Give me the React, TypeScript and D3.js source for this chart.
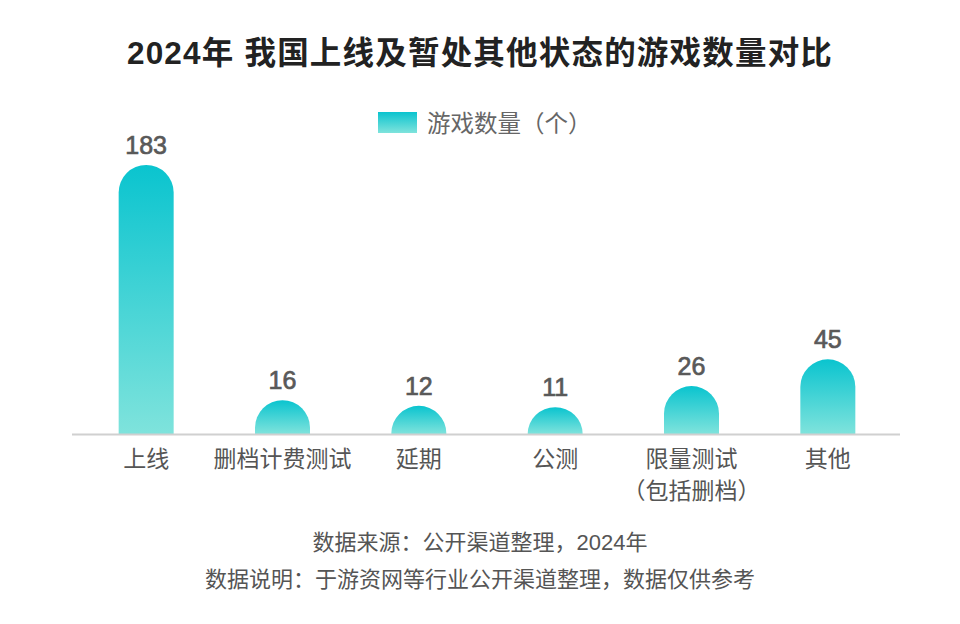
import React, { useEffect, useRef } from 'react';
import * as d3 from 'd3';

const categories = ['上线', '删档计费测试', '延期', '公测', '限量测试\n（包括删档）', '其他'];
const gameCounts = [183, 16, 12, 11, 26, 45];

const chartTitle = '2024年 我国上线及暂处其他状态的游戏数量对比';
const legendLabel = '游戏数量（个）';
const footnotes = ['数据来源：公开渠道整理，2024年', '数据说明：于游资网等行业公开渠道整理，数据仅供参考'];

const FONT = '"Liberation Sans", "Noto Sans CJK SC", sans-serif';

const App: React.FC = () => {
   const svgRef = useRef<SVGSVGElement | null>(null);
   const width = 960;
   const height = 624;

   useEffect(() => {
      if (!svgRef.current) return;
      const svg = d3.select(svgRef.current);
      svg.selectAll('*').remove();

      const baseline = 434;
      const top = 165;

      const x = d3.scaleBand<number>()
         .domain(d3.range(categories.length))
         .range([78, 896])
         .paddingInner(0.6)
         .paddingOuter(0.3);

      const y = d3.scaleLinear()
         .domain([-8, 183])
         .range([baseline, top]);

      const defs = svg.append('defs');
      const grad = defs.append('linearGradient')
         .attr('id', 'bar-grad')
         .attr('x1', 0).attr('y1', 0)
         .attr('x2', 0).attr('y2', 1);
      grad.append('stop').attr('offset', '0%').attr('stop-color', '#0ac4cf');
      grad.append('stop').attr('offset', '100%').attr('stop-color', '#7fe3dc');

      // title
      svg.append('text')
         .attr('x', width / 2)
         .attr('y', 64)
         .attr('text-anchor', 'middle')
         .attr('font-family', FONT)
         .attr('font-size', 31.5)
         .attr('letter-spacing', 1.2)
         .attr('font-weight', 'bold')
         .attr('fill', '#222')
         .text(chartTitle);

      // legend
      svg.append('rect')
         .attr('x', 378).attr('y', 112)
         .attr('width', 39).attr('height', 21)
         .attr('fill', 'url(#bar-grad)');
      svg.append('text')
         .attr('x', 427).attr('y', 132)
         .attr('font-family', FONT)
         .attr('font-size', 23.5)
         .attr('fill', '#666')
         .text(legendLabel);

      const bw = 55;
      const barPath = (i: number, v: number) => {
         const cx = x(i)! + x.bandwidth() / 2;
         const x0 = cx - bw / 2;
         const x1 = cx + bw / 2;
         const yt = y(v);
         const h = baseline - yt;
         const r = bw / 2;
         const ry = Math.min(r, h);
         return `M${x0},${baseline} L${x0},${yt + ry} A${r},${ry} 0 0 1 ${x1},${yt + ry} L${x1},${baseline} Z`;
      };

      const g = svg.append('g');
      g.selectAll('path.bar')
         .data(gameCounts)
         .enter()
         .append('path')
         .attr('class', 'bar')
         .attr('d', (d, i) => barPath(i, d))
         .attr('fill', 'url(#bar-grad)');

      // axis line
      svg.append('line')
         .attr('x1', 72).attr('x2', 900)
         .attr('y1', baseline + 0.5).attr('y2', baseline + 0.5)
         .attr('stroke', '#d0d0d0')
         .attr('stroke-width', 2);

      // values
      g.selectAll('text.val')
         .data(gameCounts)
         .enter()
         .append('text')
         .attr('class', 'val')
         .attr('x', (d, i) => x(i)! + x.bandwidth() / 2)
         .attr('y', d => y(d) - 11)
         .attr('text-anchor', 'middle')
         .attr('font-family', FONT)
         .attr('font-size', 25)
         .attr('fill', '#595959')
         .attr('stroke', '#595959')
         .attr('stroke-width', 0.7)
         .text(d => d);

      // category labels
      categories.forEach((c, i) => {
         const lines = c.split('\n');
         const t = svg.append('text')
            .attr('text-anchor', 'middle')
            .attr('font-family', FONT)
            .attr('font-size', 23)
            .attr('fill', '#555');
         lines.forEach((ln, j) => {
            t.append('tspan')
               .attr('x', x(i)! + x.bandwidth() / 2)
               .attr('y', 467 + j * 32)
               .text(ln);
         });
      });

      // footnotes
      footnotes.forEach((f, i) => {
         svg.append('text')
            .attr('x', width / 2)
            .attr('y', 550 + i * 37)
            .attr('text-anchor', 'middle')
            .attr('font-family', FONT)
            .attr('font-size', 22)
            .attr('fill', '#555')
            .text(f);
      });
   }, []);

   return (
      <div style={{ width: 960, height: 624, margin: -8, background: '#fff' }}>
         <svg ref={svgRef} width={width} height={height} viewBox={`0 0 ${width} ${height}`} />
      </div>
   );
};

export default App;
